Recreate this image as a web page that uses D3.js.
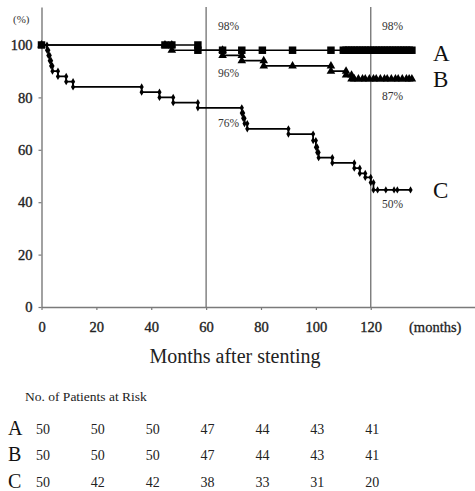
<!DOCTYPE html>
<html>
<head>
<meta charset="utf-8">
<script src="https://cdn.jsdelivr.net/npm/d3@7"></script>
<style>
  body { margin: 0; background: #fff; }
  text { font-family: "Liberation Serif", "DejaVu Serif", serif; }
</style>
</head>
<body>
<svg width="475" height="491"></svg>
<script>
// Kaplan-Meier steps: month of each event and survival (%) after it
const aTimes = [0, 57];
const aSurv = [100, 98];
const aCensor = [45, 47.5, 66, 73, 80.5, 91.5, 105.5,
    110, 111, 112, 113, 114, 115, 116, 117, 118, 119, 120, 121, 122,
    123, 124, 125, 126, 127, 128, 129, 130, 131, 132, 133, 134, 135];

const bTimes = [0, 47.5, 66, 73, 81, 105.5, 111, 113];
const bSurv = [100, 98, 96, 94, 92, 90, 88.5, 87];
const bCensor = [45, 91.5, 114, 115.5, 117, 118, 119.5, 121, 122, 123.5, 125,
    126, 127.5, 129, 130, 131.5, 133, 134, 135];

const cTimes = [0, 2, 2.5, 3, 3.5, 4, 6, 9, 11.5, 36.5, 43, 48, 57,
    73, 73.5, 74, 75, 90, 99, 100, 100.5, 101, 106, 114, 116, 118, 120, 121];
const cSurv = [100, 98, 96, 94, 92, 90, 88, 86, 84, 82, 80, 78, 76,
    74, 72, 70, 68, 66, 63.5, 61, 59, 57, 55, 53, 51, 49.5, 47.5, 44.7];
const cCensor = [122.5, 125.5, 128.5, 129.7, 134.5];

// patients at risk
const riskMonths = [0, 20, 40, 60, 80, 100, 120];
const riskA = [50, 50, 50, 47, 44, 43, 41];
const riskB = [50, 50, 50, 47, 44, 43, 41];
const riskC = [50, 42, 42, 38, 33, 31, 20];

const yTicks = [0, 20, 40, 60, 80, 100];
const refMonths = [60, 120];

// survival labels: text, month, percent (placed in data space)
const notes = [
    ["98%", 64.3, 105.7], ["98%", 124.1, 105.7],
    ["96%", 64.3, 87.9], ["87%", 124.1, 79],
    ["76%", 64.3, 68.7], ["50%", 124.1, 37.8]
];

let svg = d3.select("svg");

let x = d3.scaleLinear().domain([0, 158]).range([41.5, 475]);
let y = d3.scaleLinear().domain([0, 114.5]).range([307, 7]);

const axisColor = "#7a7a7a";

// reference lines at 5 and 10 years
svg.append("g")
    .selectAll("line")
    .data(refMonths)
    .enter().append("line")
    .attr("x1", d => x(d)).attr("x2", d => x(d))
    .attr("y1", y(114.5)).attr("y2", y(0))
    .attr("stroke", axisColor)
    .attr("stroke-width", 1.4);

let xAxis = svg.append("g")
    .attr("transform", "translate(0," + y(0) + ")")
    .call(d3.axisBottom(x).tickValues(riskMonths).tickSize(3).tickSizeOuter(0).tickPadding(12));

let yAxis = svg.append("g")
    .attr("transform", "translate(" + x(0) + ",0)")
    .call(d3.axisLeft(y).tickValues(yTicks).tickSize(3).tickSizeOuter(0).tickPadding(6));

[xAxis, yAxis].forEach(function (g) {
    g.attr("font-family", null);
    g.select(".domain").attr("stroke", axisColor).attr("stroke-width", 1.4);
    g.selectAll(".tick line").attr("stroke", axisColor).attr("stroke-width", 1.2);
    g.selectAll(".tick text")
        .attr("fill", "#222")
        .attr("stroke", "#222")
        .attr("stroke-width", 0.35)
        .style("font-size", "14.5px");
});

svg.append("text")
    .attr("x", x(143.5)).attr("y", 331.5)
    .attr("text-anchor", "middle")
    .attr("fill", "#222")
    .attr("stroke", "#222")
    .attr("stroke-width", 0.3)
    .style("font-size", "14.5px")
    .text("(months)");

svg.append("text")
    .attr("x", 13).attr("y", 23)
    .attr("fill", "#333")
    .style("font-size", "11px")
    .text("(%)");

svg.append("text")
    .attr("x", 235).attr("y", 363)
    .attr("text-anchor", "middle")
    .attr("fill", "#222")
    .style("font-size", "20px")
    .text("Months after stenting");

function survivalAt(times, surv, t) {
    let s = surv[0];
    for (let i = 0; i < times.length; i++) {
        if (times[i] <= t) s = surv[i];
    }
    return s;
}

function stepPoints(times, surv, endT) {
    let pts = times.map((t, i) => [t, surv[i]]);
    pts.push([endT, surv[surv.length - 1]]);
    return pts;
}

function markerPoints(times, surv, censor) {
    let pts = [[times[0], surv[0]]];
    for (let i = 1; i < times.length; i++) {
        pts.push([times[i], surv[i - 1]]);
        pts.push([times[i], surv[i]]);
    }
    censor.forEach(c => pts.push([c, survivalAt(times, surv, c)]));
    return pts;
}

let line = d3.line()
    .x(d => x(d[0]))
    .y(d => y(d[1]))
    .curve(d3.curveStepAfter);

function drawCurve(times, surv, censor, symbol, size) {
    let endT = d3.max(censor);
    svg.append("path")
        .datum(stepPoints(times, surv, endT))
        .attr("d", line)
        .attr("fill", "none")
        .attr("stroke", "#000")
        .attr("stroke-width", 1.7);

    svg.append("g")
        .selectAll("path")
        .data(markerPoints(times, surv, censor))
        .enter().append("path")
        .attr("transform", d => "translate(" + x(d[0]) + "," + y(d[1]) + ")")
        .attr("d", d3.symbol().type(symbol).size(size))
        .attr("fill", "#000");
}

drawCurve(cTimes, cSurv, cCensor, d3.symbolDiamond, 15);
drawCurve(bTimes, bSurv, bCensor, d3.symbolTriangle, 32);
drawCurve(aTimes, aSurv, aCensor, d3.symbolSquare, 56);

// survival rate notes
svg.append("g")
    .selectAll("text")
    .data(notes)
    .enter().append("text")
    .attr("x", d => x(d[1]))
    .attr("y", d => y(d[2]))
    .attr("fill", "#333")
    .style("font-size", "11.5px")
    .text(d => d[0]);

// group names at the right end of each curve
const groupNames = ["A", "B", "C"];
const groupBaselines = [61, 87, 198];
svg.append("g")
    .selectAll("text")
    .data(groupNames)
    .enter().append("text")
    .attr("x", 433)
    .attr("y", (d, i) => groupBaselines[i])
    .attr("fill", "#111")
    .style("font-size", "23px")
    .text(d => d);

//////////// RISK TABLE ////////////

svg.append("text")
    .attr("x", 25).attr("y", 401)
    .attr("fill", "#222")
    .style("font-size", "13.5px")
    .text("No. of Patients at Risk");

const riskRows = [riskA, riskB, riskC];
const rowBaselines = [434, 460, 487];

riskRows.forEach(function (row, r) {
    svg.append("text")
        .attr("x", 8).attr("y", rowBaselines[r] + 1)
        .attr("fill", "#111")
        .style("font-size", "20px")
        .text(groupNames[r]);

    svg.append("g")
        .selectAll("text")
        .data(row)
        .enter().append("text")
        .attr("x", (d, i) => x(riskMonths[i]) + 1.5)
        .attr("y", rowBaselines[r])
        .attr("text-anchor", "middle")
        .attr("fill", "#222")
        .style("font-size", "14px")
        .text(d => d);
});
</script>
</body>
</html>
